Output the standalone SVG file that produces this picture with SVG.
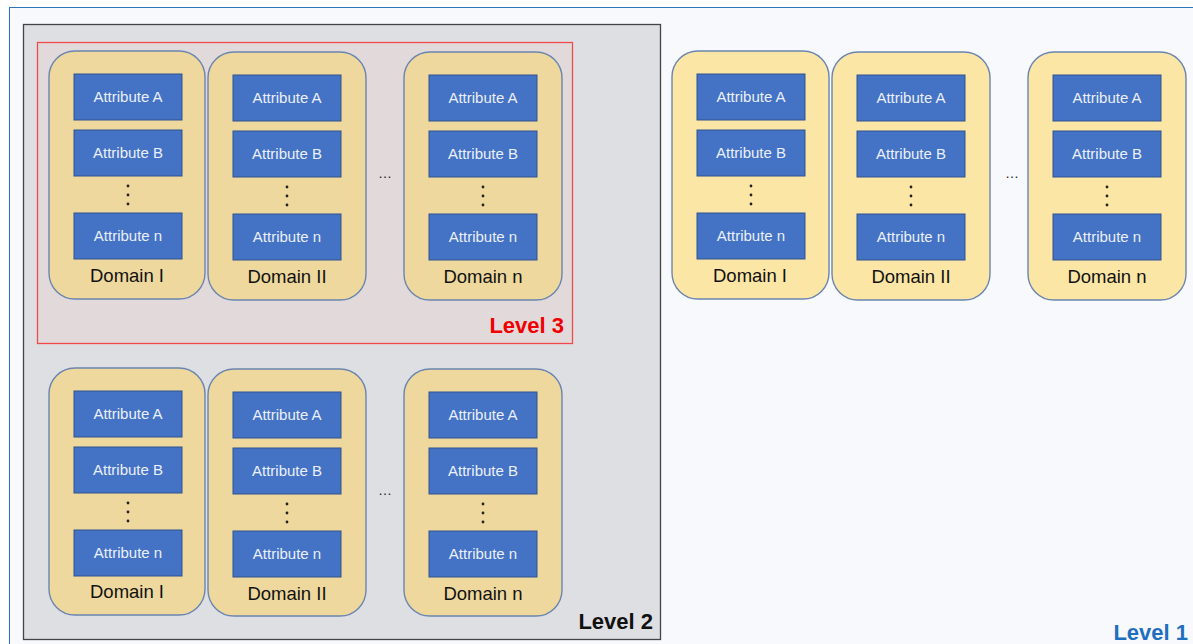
<svg xmlns="http://www.w3.org/2000/svg" width="1193" height="644" viewBox="0 0 1193 644">
  <defs>
    <style>
      .domain-box { stroke: #6A85B0; stroke-width: 1.4; }
      .in-gray { fill: #EED89D; }
      .in-light { fill: #FCE6A6; }
      .attr { fill: #4472C4; stroke: #2F528F; stroke-width: 1; }
      .attr-text { font-family: "Liberation Sans", Arial, sans-serif; font-size: 15px; fill: #EAF0FA; text-anchor: middle; }
      .dom-text { font-family: "Liberation Sans", Arial, sans-serif; font-size: 18.5px; fill: #111; text-anchor: middle; }
      .dot { fill: #222; }
      .more { font-family: "Liberation Sans", Arial, sans-serif; font-size: 14px; fill: #222; text-anchor: middle; }
      .level { font-family: "Liberation Sans", Arial, sans-serif; font-size: 22px; font-weight: bold; text-anchor: end; }
    </style>
    <!-- one domain column: three attributes and a vertical ellipsis -->
    <g id="domain-body">
      <rect class="attr" x="25" y="23" width="108" height="46"/>
      <text class="attr-text" x="79" y="51">Attribute A</text>
      <rect class="attr" x="25" y="79" width="108" height="46"/>
      <text class="attr-text" x="79" y="107">Attribute B</text>
      <circle class="dot" cx="79" cy="135" r="1.4"/>
      <circle class="dot" cx="79" cy="144" r="1.4"/>
      <circle class="dot" cx="79" cy="153" r="1.4"/>
      <rect class="attr" x="25" y="162" width="108" height="46"/>
      <text class="attr-text" x="79" y="190">Attribute n</text>
    </g>
  </defs>

  <rect x="0" y="0" width="1193" height="644" fill="#FFFFFF"/>

  <!-- Level 1 frame -->
  <g id="level1">
    <rect x="9.5" y="7.5" width="1200" height="700" fill="#F7F9FC" stroke="#2E75B6" stroke-width="1"/>
    <text class="level" x="1188" y="640" fill="#1F6FC0">Level 1</text>
  </g>

  <!-- Level 2 frame -->
  <g id="level2">
    <rect x="23.5" y="24.5" width="637" height="615" fill="#DEDFE3" stroke="#444" stroke-width="1.3"/>
    <text class="level" x="653" y="629" fill="#111">Level 2</text>
  </g>

  <!-- Level 3 frame -->
  <g id="level3">
    <rect x="37.5" y="42.5" width="535" height="301" fill="#E2DADA" stroke="#F04A4A" stroke-width="1.3"/>
    <text class="level" x="564" y="333" fill="#F00000">Level 3</text>
  </g>

  <!-- Level 3 domains -->
  <g id="l3-domain-1" transform="translate(49,51)">
    <rect class="domain-box in-gray" x="0" y="0" width="156" height="248" rx="26"/>
    <use href="#domain-body"/>
    <text class="dom-text" x="78" y="231">Domain I</text>
  </g>
  <g id="l3-domain-2" transform="translate(208,52)">
    <rect class="domain-box in-gray" x="0" y="0" width="158" height="248" rx="26"/>
    <use href="#domain-body"/>
    <text class="dom-text" x="79" y="231">Domain II</text>
  </g>
  <text class="more" x="385" y="178">…</text>
  <g id="l3-domain-n" transform="translate(404,52)">
    <rect class="domain-box in-gray" x="0" y="0" width="158" height="248" rx="26"/>
    <use href="#domain-body"/>
    <text class="dom-text" x="79" y="231">Domain n</text>
  </g>

  <!-- Level 2 domains -->
  <g id="l2-domain-1" transform="translate(49,368)">
    <rect class="domain-box in-gray" x="0" y="0" width="156" height="247" rx="26"/>
    <use href="#domain-body"/>
    <text class="dom-text" x="78" y="230">Domain I</text>
  </g>
  <g id="l2-domain-2" transform="translate(208,369)">
    <rect class="domain-box in-gray" x="0" y="0" width="158" height="247" rx="26"/>
    <use href="#domain-body"/>
    <text class="dom-text" x="79" y="231">Domain II</text>
  </g>
  <text class="more" x="385" y="495">…</text>
  <g id="l2-domain-n" transform="translate(404,369)">
    <rect class="domain-box in-gray" x="0" y="0" width="158" height="247" rx="26"/>
    <use href="#domain-body"/>
    <text class="dom-text" x="79" y="231">Domain n</text>
  </g>

  <!-- Level 1 domains -->
  <g id="l1-domain-1" transform="translate(672,51)">
    <rect class="domain-box in-light" x="0" y="0" width="157" height="248" rx="26"/>
    <use href="#domain-body"/>
    <text class="dom-text" x="78" y="231">Domain I</text>
  </g>
  <g id="l1-domain-2" transform="translate(832,52)">
    <rect class="domain-box in-light" x="0" y="0" width="158" height="248" rx="26"/>
    <use href="#domain-body"/>
    <text class="dom-text" x="79" y="231">Domain II</text>
  </g>
  <text class="more" x="1012" y="178">…</text>
  <g id="l1-domain-n" transform="translate(1028,52)">
    <rect class="domain-box in-light" x="0" y="0" width="158" height="248" rx="26"/>
    <use href="#domain-body"/>
    <text class="dom-text" x="79" y="231">Domain n</text>
  </g>
</svg>
